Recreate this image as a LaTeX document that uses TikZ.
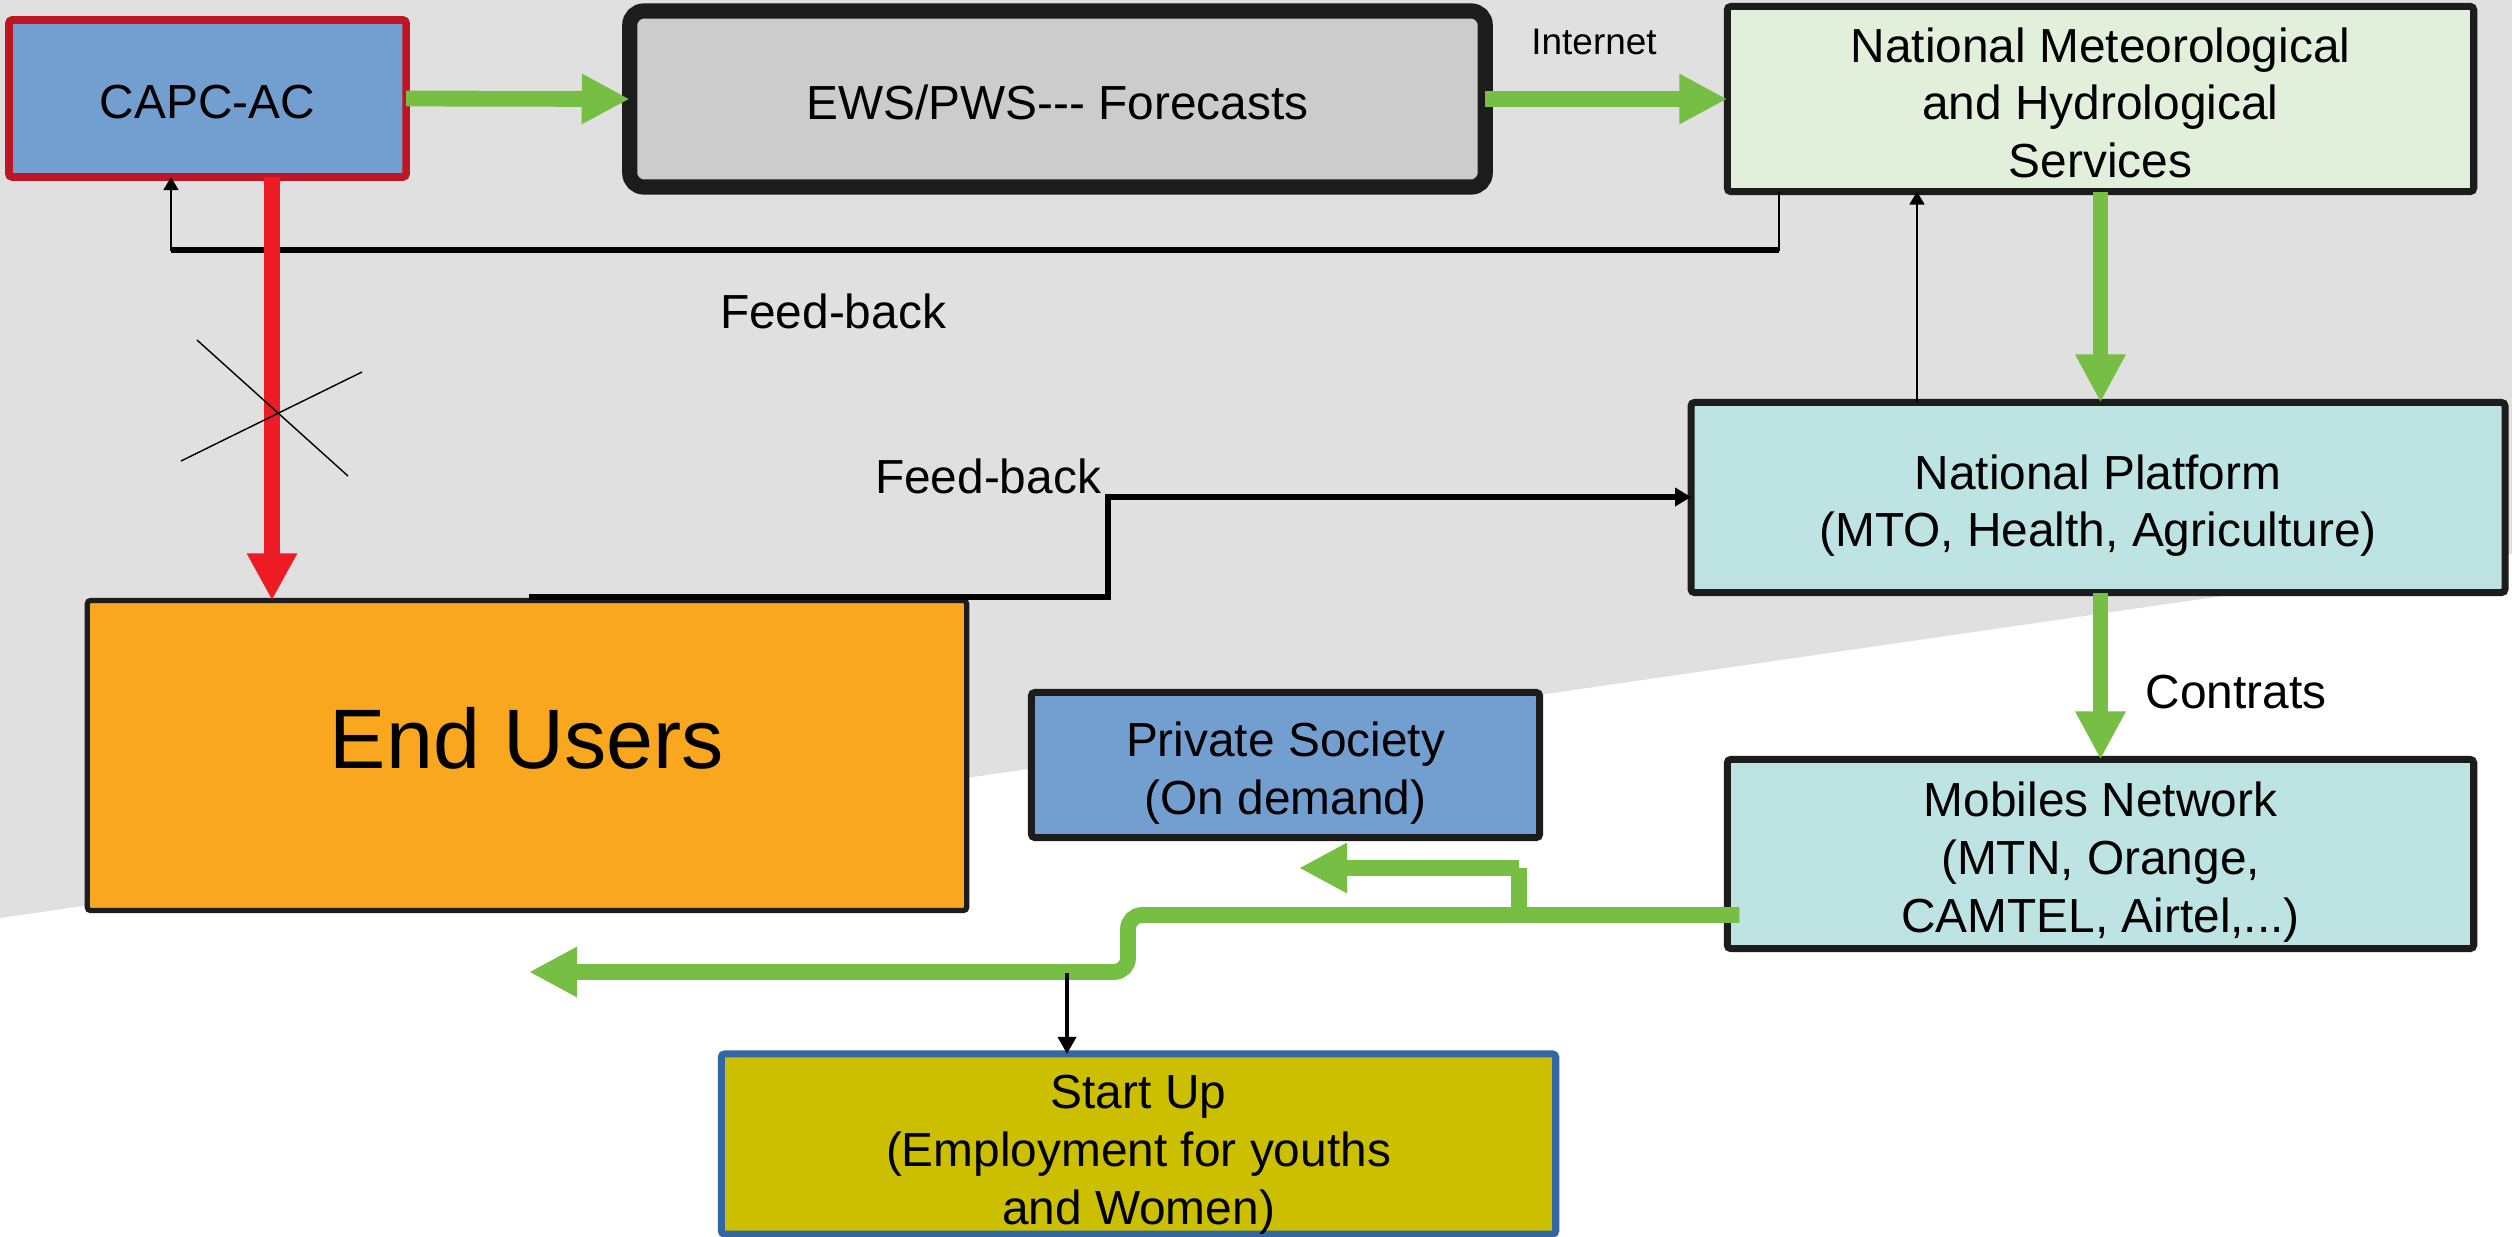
\documentclass[tikz,border=0pt]{standalone}
\usepackage{fontspec}
\setmainfont{Liberation Sans}
\usetikzlibrary{arrows.meta}
\definecolor{bgc}{HTML}{E0E0E0}
\definecolor{bord}{HTML}{1C1C1C}
\definecolor{capcred}{HTML}{BE1622}
\definecolor{capcblue}{HTML}{729FCF}
\definecolor{ewsgray}{HTML}{CCCCCC}
\definecolor{nmgreen}{HTML}{E2EFDA}
\definecolor{tealbox}{HTML}{BEE3E3}
\definecolor{endorange}{HTML}{F8A71E}
\definecolor{startblue}{HTML}{3465A4}
\definecolor{startyellow}{HTML}{CCBF00}
\definecolor{arrgreen}{HTML}{76BE44}
\definecolor{arrred}{HTML}{ED1C24}
\newcommand{\tup}[1]{\rule{0pt}{#1}}
\begin{document}
\begin{tikzpicture}[x=0.01cm,y=-0.01cm,
  box/.style={draw=bord, line width=2pt, inner sep=0pt, outer sep=0pt, align=center,
    font=\fontsize{13.6}{16.4}\selectfont, rounded corners=1pt},
  lbl/.style={inner sep=0pt, font=\fontsize{13.6}{16.4}\selectfont},
  garrow/.style={draw=arrgreen, line width=4.5pt, -{Triangle[length=0.48cm,width=0.47cm]}},
  gline/.style={draw=arrgreen, line width=4.5pt},
  rarrow/.style={draw=arrred, line width=4.4pt, -{Triangle[length=0.47cm,width=0.47cm]}},
  thinarrow/.style={draw=black, line width=0.45pt, -{Triangle[length=0.13cm,width=0.15cm]}},
  fbarrow/.style={draw=black, line width=1.7pt, -{Triangle[length=0.16cm,width=0.18cm]}},
  barrow/.style={draw=black, line width=1.1pt, -{Triangle[length=0.17cm,width=0.18cm]}}
]
\useasboundingbox (0,0) rectangle (2512,1236);
\fill[white] (0,0) rectangle (2512,1236);
\fill[bgc] (0,0) -- (2512,0) -- (2512,554) -- (0,918) -- cycle;

% boxes
\node[box, draw=capcred, line width=2.2pt, fill=capcblue, minimum width=3.97cm, minimum height=1.57cm] (capc) at (207.5,98.5) {\tup{0.41cm}CAPC-AC};
\node[box, line width=4.3pt, rounded corners=4pt, fill=ewsgray, minimum width=8.55cm, minimum height=1.76cm] (ews) at (1057.5,99) {\tup{0.41cm}EWS/PWS-{}-{}- Forecasts};
\node[box, fill=nmgreen, minimum width=7.46cm, minimum height=1.85cm] (nmhs) at (2100.5,99) {\tup{0.42cm}National Meteorological\\and Hydrological\\Services};
\node[box, fill=tealbox, minimum width=8.135cm, minimum height=1.9cm] (np) at (2098,497.5) {\tup{0.51cm}National Platform\\(MTO, Health, Agriculture)};
\node[box, fill=tealbox, minimum width=7.46cm, minimum height=1.89cm] (mob) at (2100.5,854) {\tup{0.51cm}Mobiles Network\\(MTN, Orange,\\CAMTEL, Airtel,...)};
\node[box, fill=capcblue, minimum width=5.08cm, minimum height=1.45cm] (priv) at (1285.5,765) {\tup{0.51cm}Private Society\\(On demand)};
\node[box, line width=1.5pt, fill=endorange, minimum width=8.79cm, minimum height=3.10cm,
  font=\fontsize{24}{28}\selectfont, text height=0.65cm, text depth=0.395cm] (end) at (527,755.5) {End Users};
\node[box, draw=startblue, fill=startyellow, minimum width=8.34cm, minimum height=1.755cm] (start) at (1138.5,1144) {\tup{0.55cm}Start Up\\(Employment for youths\\and Women)};

% labels
\node[lbl, font=\fontsize{10.5}{12}\selectfont] (inet) at (1594,42) {Internet};
\node[lbl] (fb1) at (833,311) {Feed-back};
\node[lbl] (fb2) at (988,476) {Feed-back};
\node[lbl] (contr) at (2236,692) {Contrats};

% coordinates
\coordinate (rx) at (272,0);
\coordinate (f1a) at (1779,250);
\coordinate (f1b) at (171,250);
\coordinate (f2a) at (529,597);
\coordinate (f2b) at (1108,597);
\coordinate (f2c) at (1108,497);
\coordinate (ux) at (1917,0);
\coordinate (m1) at (1128,915);
\coordinate (m2) at (1128,972);
\coordinate (mtip) at (529,972);
\coordinate (b1) at (1519,915);
\coordinate (b2) at (1519,868);
\coordinate (ptip) at (1299,868);
\coordinate (s1) at (1067,973);
\coordinate (c1a) at (197,340);
\coordinate (c1b) at (348,476);
\coordinate (c2a) at (181,461);
\coordinate (c2b) at (362,372);

% green arrows
\draw[garrow] (capc.east) -- (ews.west);
\draw[garrow] (ews.east) -- (nmhs.west);
\draw[garrow] (nmhs.south) -- (nmhs.south |- np.north);
\draw[garrow] (mob.north |- np.south) -- (mob.north);

% feedback to CAPC
\draw[thinarrow] (nmhs.south -| f1a) -- (f1a) -- (f1b) -- (capc.south -| f1b);
\draw[black, line width=1.7pt] (f1a) -- (f1b);

% thin arrow NP -> NMHS
\draw[thinarrow] (np.north -| ux) -- (nmhs.south -| ux);

% feedback End Users -> NP
\draw[fbarrow] (f2a) -- (f2b) -- (f2c) -- (np.west |- f2c);

% red arrow and cross
\draw[rarrow] (capc.south -| rx) -- (end.north -| rx);
\draw[black, line width=0.4pt] (c1a) -- (c1b);
\draw[black, line width=0.4pt] (c2a) -- (c2b);

% mobiles distribution
\draw[gline] (b1) -- (b2);
\draw[garrow] (b2) -- (ptip);
\draw[garrow, rounded corners=4pt] ([xshift=0.12cm]mob.west |- m1) -- (m1) -- (m2) -- (mtip);
\draw[barrow] (s1) -- (start.north -| s1);
\end{tikzpicture}
\end{document}
